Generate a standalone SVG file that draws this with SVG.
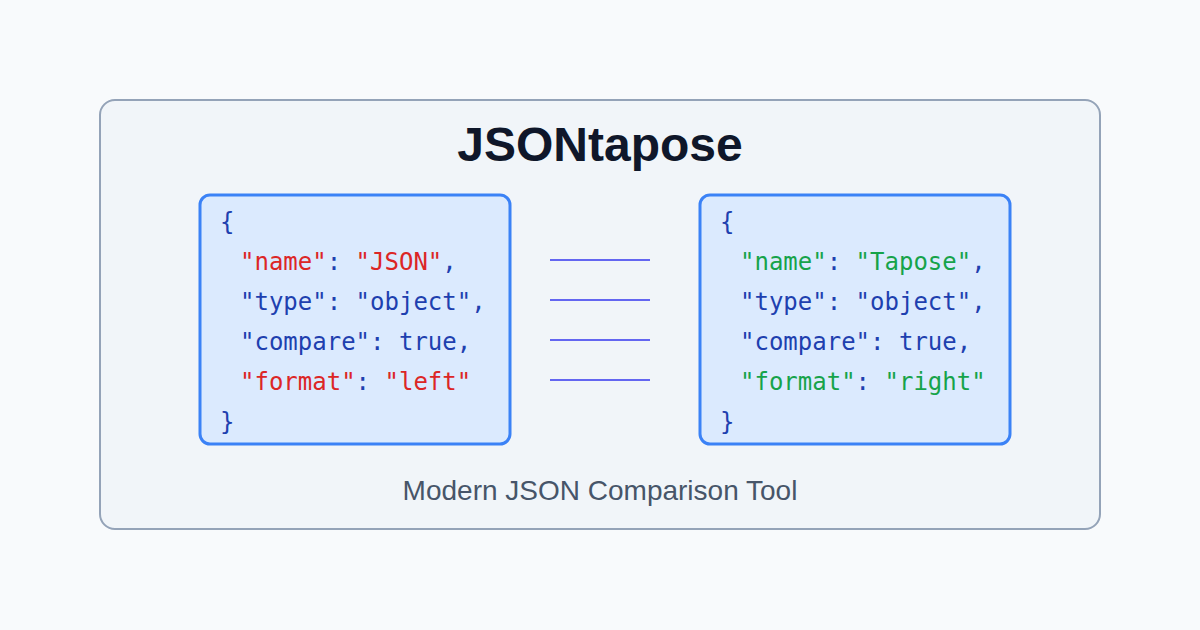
<svg xmlns="http://www.w3.org/2000/svg" width="1200" height="630" viewBox="0 0 1200 630">
<style>
.code{font-family:"DejaVu Sans Mono",monospace;font-size:24px;fill:#1e40af}
.r{fill:#dc2626}.g{fill:#16a34a}
.box{fill:#dbeafe;stroke:#3b82f6;stroke-width:3}
.ln{stroke:#6366f1;stroke-width:2}
</style>
<rect width="1200" height="630" fill="#f8fafc"/>
<rect x="100" y="100" width="1000" height="429" rx="15" fill="#f1f5f9" stroke="#94a3b8" stroke-width="2"/>
<text x="600" y="161" text-anchor="middle" font-family="Liberation Sans,Arial,sans-serif" font-weight="bold" font-size="48" fill="#0f172a">JSONtapose</text>
<g id="left">
<rect class="box" x="200" y="195" width="310" height="249" rx="10"/>
<text class="code" x="220" y="230">{</text>
<text class="code" x="240" y="270"><tspan class="r">"name"</tspan>: <tspan class="r">"JSON"</tspan>,</text>
<text class="code" x="240" y="310">"type": "object",</text>
<text class="code" x="240" y="350">"compare": true,</text>
<text class="code" x="240" y="390"><tspan class="r">"format"</tspan>: <tspan class="r">"left"</tspan></text>
<text class="code" x="220" y="430">}</text>
</g>
<g id="right">
<rect class="box" x="700" y="195" width="310" height="249" rx="10"/>
<text class="code" x="720" y="230">{</text>
<text class="code" x="740" y="270"><tspan class="g">"name"</tspan>: <tspan class="g">"Tapose"</tspan>,</text>
<text class="code" x="740" y="310">"type": "object",</text>
<text class="code" x="740" y="350">"compare": true,</text>
<text class="code" x="740" y="390"><tspan class="g">"format"</tspan>: <tspan class="g">"right"</tspan></text>
<text class="code" x="720" y="430">}</text>
</g>
<g id="connectors">
<line class="ln" x1="550" y1="260" x2="650" y2="260"/>
<line class="ln" x1="550" y1="300" x2="650" y2="300"/>
<line class="ln" x1="550" y1="340" x2="650" y2="340"/>
<line class="ln" x1="550" y1="380" x2="650" y2="380"/>
</g>
<text x="600" y="500" text-anchor="middle" font-family="Liberation Sans,Arial,sans-serif" font-size="28" fill="#475569">Modern JSON Comparison Tool</text>
</svg>
